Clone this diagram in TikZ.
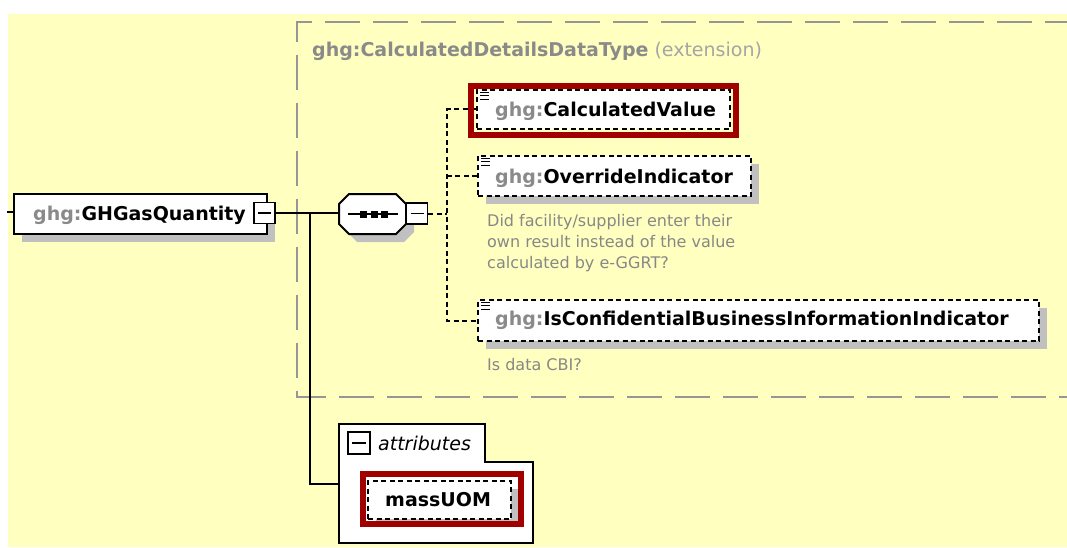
\documentclass[tikz,border=0pt]{standalone}
\usepackage{fontspec}
\setmainfont{DejaVu Sans}
\usetikzlibrary{shadows}

\definecolor{paper}{RGB}{255,255,192}
\definecolor{nsgray}{RGB}{138,138,138}
\definecolor{extgray}{RGB}{150,150,150}
\definecolor{extlight}{RGB}{165,165,165}
\definecolor{shadowgray}{RGB}{192,192,192}
\definecolor{markred}{RGB}{160,0,0}
\definecolor{notegray}{RGB}{135,135,135}

\newcommand\ns{\textcolor{nsgray}{ghg:}}

\begin{document}
\begin{tikzpicture}[x=1pt,y=-1pt,
  wire/.style={draw=black, line width=2pt},
  optwire/.style={draw=black, line width=2pt, dash pattern=on 5pt off 3.5pt},
  castshadow/.style={general shadow={fill=shadowgray, shadow xshift=8pt, shadow yshift=-8pt}},
  solidbox/.style={draw=black, line width=2pt, fill=white, inner sep=0pt, anchor=north west},
  optbox/.style={draw=black, line width=2pt, dash pattern=on 5pt off 3.5pt, fill=white, inner sep=0pt, anchor=north west},
  markframe/.style={draw=markred, line width=6pt, inner sep=0pt, anchor=north west},
  minusbox/.style={draw=black, line width=1.6pt, fill=white, inner sep=0pt,
    minimum width=21pt, minimum height=21pt,
    path picture={\draw[line width=1.6pt] ([xshift=4pt]path picture bounding box.west) -- ([xshift=-4pt]path picture bounding box.east);}},
  nametext/.style={anchor=base west, inner sep=0pt, font=\fontsize{19}{22}\selectfont\bfseries},
  notetext/.style={anchor=base west, inner sep=0pt, text=notegray, font=\fontsize{16}{21}\selectfont},
  iconline/.style={line width=1.1pt},
]
\useasboundingbox (0,0) rectangle (1067,548);
\fill[paper] (8,14) rectangle (1067,547);

% extension frame, open to the right
\draw[extgray, line width=2.2pt, dash pattern=on 35pt off 13pt]
  (1080,22) -- (297,22) -- (297,397) -- (1080,397);
\node[anchor=base west, inner sep=0pt, font=\fontsize{19}{22}\selectfont] (exttitle) at (312,57)
  {\textcolor{nsgray}{\bfseries ghg:CalculatedDetailsDataType} \textcolor{extlight}{(extension)}};

% root element
\node[solidbox, castshadow, minimum width=253pt, minimum height=40pt] (gq) at (13,193) {};
\node[nametext] (gqtext) at (33,220) {\ns GHGasQuantity};
\node[minusbox] (gqm) at (264.5,213) {};
\coordinate (stub) at (7,212);
\draw[wire] (stub) -- (gq.west |- stub);

% sequence compositor
\node[inner sep=0pt, minimum width=67pt, minimum height=40pt, anchor=north west] (seq) at (339,194) {};
\fill[shadowgray] (357,202) -- (404,202) -- (414,212) -- (414,232) -- (404,242) -- (357,242) -- (347,232) -- (347,212) -- cycle;
\draw[wire, fill=white] (349,194) -- (396,194) -- (406,204) -- (406,224) -- (396,234) -- (349,234) -- (339,224) -- (339,204) -- cycle;
\draw[wire] (348,214) -- (398,214);
\fill (360,210.5) rectangle (367,217.5);
\fill (370.5,210.5) rectangle (377.5,217.5);
\fill (381,210.5) rectangle (388,217.5);
\node[minusbox] (seqm) at (417,213.5) {};

\draw[wire] (gqm.east) -- (seq.west |- gqm.east);

% child elements
\node[optbox, minimum width=253pt, minimum height=39pt] (calc) at (476,89) {};
\node[nametext] (calctext) at (495,116.5) {\ns CalculatedValue};

\node[optbox, castshadow, minimum width=273pt, minimum height=40pt] (over) at (477,155) {};
\node[nametext] (overtext) at (495,183) {\ns OverrideIndicator};
\node[notetext] (overnote1) at (487,226) {Did facility/supplier enter their};
\node[notetext] (overnote2) at (487,247) {own result instead of the value};
\node[notetext] (overnote3) at (487,268) {calculated by e-GGRT?};

\node[optbox, castshadow, minimum width=561pt, minimum height=41pt] (conf) at (477,299) {};
\node[nametext] (conftext) at (495,325) {\ns IsConfidentialBusinessInformationIndicator};
\node[notetext] (confnote) at (487,370) {Is data CBI?};

\foreach \b in {calc,over,conf}
  \foreach \k in {0,1,2}
    \draw[iconline] ([shift={(4,3.5+3.4*\k)}]\b.north west) -- ++(9,0);

% choice of children
\coordinate (choice) at (447,213.5);
\draw[optwire] (seqm.east) -- (choice);
\draw[optwire] (calc.west) -| (choice) |- (conf.west);
\draw[optwire] (over.west) -- (over.west -| choice);

% attributes group
\node[inner sep=0pt, minimum width=194pt, minimum height=119pt, anchor=north west] (attr) at (339,424) {};
\draw[wire, fill=white] (339,424) -- (485,424) -- (485,462) -- (533,462) -- (533,543) -- (339,543) -- cycle;
\node[minusbox, minimum width=22pt, minimum height=22pt] (attrm) at (359,443) {};
\node[anchor=base west, inner sep=0pt, font=\fontsize{19}{22}\selectfont\itshape] (attrtext) at (378,450) {attributes};

\node[optbox, castshadow, minimum width=143pt, minimum height=38pt] (mass) at (367,480) {};
\node[nametext] (masstext) at (385,506) {massUOM};

\coordinate (fork) at (310,213);
\draw[wire] (fork) |- (attr.west);

% highlight frames
\node[markframe, minimum width=265pt, minimum height=48.5pt] (calcmark) at (468.3,83.3) {};
\node[markframe, minimum width=158pt, minimum height=50.5pt] (massmark) at (359.7,470.5) {};
\end{tikzpicture}
\end{document}
